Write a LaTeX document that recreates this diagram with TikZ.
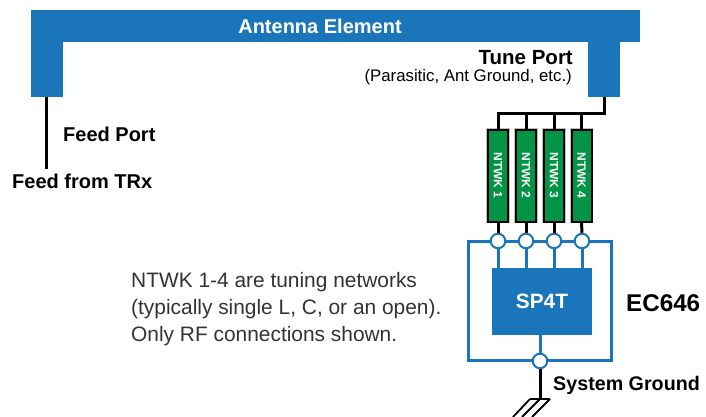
\documentclass[tikz,border=0pt]{standalone}
\usepackage{fontspec}
\usepackage{xcolor}
\setmainfont{Liberation Sans}
\usetikzlibrary{positioning,calc}
\definecolor{chipblue}{HTML}{1B75BB}
\definecolor{ntwkgreen}{HTML}{009444}
\begin{document}
\begin{tikzpicture}[
  x=1pt,y=-1pt,
  metal/.style={fill=chipblue,draw=none,inner sep=0pt,minimum width=32pt},
  ntwk/.style={draw=black,line width=2pt,preaction={draw=black!25,line width=3.5pt},fill=ntwkgreen,text=white,inner sep=0pt,minimum width=20pt,minimum height=92pt,font=\bfseries\fontsize{12}{14}\selectfont},
  pin/.style={circle,draw=chipblue,line width=2pt,fill=white,inner sep=0pt,minimum size=14.5pt},
  wire/.style={draw=black,line width=3pt},
  rf/.style={draw=chipblue,line width=3pt},
  lbl/.style={font=\bfseries\fontsize{20}{24}\selectfont,inner sep=0pt}
]
\useasboundingbox (0,0) rectangle (706,417);
% antenna
\node[metal,minimum width=609pt,minimum height=32pt] (ant) at (335.5,26) {};
\node[inner sep=0pt,text=white,font=\bfseries\fontsize{20}{24}\selectfont] (antlabel) at (320,26) {Antenna Element};
\node[metal,minimum height=55pt] (feedleg) at (47,69.5) {};
\node[metal,minimum height=55pt] (tuneleg) at (604,69.5) {};
\coordinate (feedend) at (46.5,169);
\draw[wire] (feedend |- feedleg.south) -- (feedend);
\node[lbl,anchor=west] (feedport) at (63,134) {Feed Port};
\node[lbl,anchor=west] (feedtrx) at (12,181) {Feed from TRx};
\node[lbl,anchor=east,font=\bfseries\fontsize{20.5}{24}\selectfont] (tuneport) at (573,58) {Tune Port};
\node[anchor=east,inner sep=0pt,font=\fontsize{16.8}{20}\selectfont] (tunenote) at (572,77) {(Parasitic, Ant Ground, etc.)};
% networks
\foreach \n/\px in {1/498,2/526,3/554,4/581.5} {
  \node[ntwk] (n\n) at (\px,175.5) {\rotatebox{-90}{NTWK \n}};
}
\coordinate (bus) at (604,114);
\draw[wire] (tuneleg.south) -- (bus) -- (n1.north |- bus) -- (n1.north);
\foreach \n in {2,3,4} {\draw[wire] (n\n.north |- bus) -- (n\n.north);}
% switch
\node[rectangle,draw=chipblue,line width=2.2pt,minimum width=143pt,minimum height=119pt,inner sep=0pt] (chip) at (540,301) {};
\node[fill=chipblue,text=white,inner sep=0pt,minimum width=100pt,minimum height=67pt,font=\bfseries\fontsize{20.8}{24}\selectfont] (sp4t) at (542,301.5) {SP4T};
\foreach \n/\px in {1/498,2/526,3/554,4/582} {
  \node[pin] (p\n) at (\px,241) {};
  \draw[wire] (n\n.south) -- (p\n.north);
  \draw[rf] (p\n.south) -- (p\n.south |- sp4t.north);
}
\node[pin] (gnd) at (540,361) {};
\draw[rf] (gnd.north) -- (gnd.north |- sp4t.south);
\node[lbl,anchor=west,font=\bfseries\fontsize{24.2}{28}\selectfont] (ec) at (626,303) {EC646};
\node[lbl,anchor=west,font=\bfseries\fontsize{19.7}{24}\selectfont] (sysgnd) at (553,385) {System Ground};
% ground
\coordinate (gndtop) at (540,399);
\draw[wire] (gnd.south) -- (gndtop);
\coordinate (gl) at (530,399);
\coordinate (gr) at (550,399);
\draw[draw=black,line width=1.8pt] (gl) -- (gr);
\draw[draw=black,line width=1.8pt] (gl) -- (513,417);
\draw[draw=black,line width=1.8pt] (gndtop) -- (522,417);
\draw[draw=black,line width=1.8pt] (gr) -- (532,417);
% note
\node[anchor=north west,align=left,inner sep=0pt,text=black!80,font=\fontsize{20.9}{27}\selectfont] (note) at (131,272) {NTWK 1-4 are tuning networks\\(typically single L, C, or an open).\\Only RF connections shown.};
\end{tikzpicture}
\end{document}
